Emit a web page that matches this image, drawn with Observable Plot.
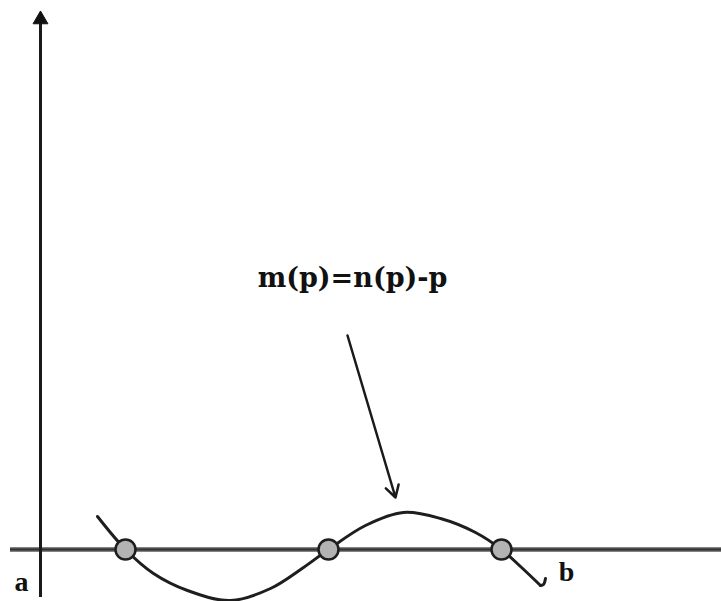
<!DOCTYPE html>
<html>
<head>
<meta charset="utf-8">
<script src="https://cdn.jsdelivr.net/npm/d3@7"></script>
<script src="https://cdn.jsdelivr.net/npm/@observablehq/plot@0.6"></script>
<style>
  html, body { margin: 0; padding: 0; background: #fff; }
  #chart svg { display: block; }
</style>
</head>
<body>
<div id="chart"></div>
<script>
// m(p) = n(p) - p, sketched between the end points a and b
const curveX = [5.7, 8.5, 11.3, 14.7, 19.0, 23.0, 26.3, 28.8, 32.5, 36.3, 40.0, 43.5, 46.1, 48.0, 50.0];
const curveY = [3.3, 0.0, -2.4, -4.1, -5.1, -3.9, -1.8, 0.0, 2.4, 3.7, 3.1, 1.7, 0.0, -1.7, -3.6];
// small hook at the right end of the curve
const hookX = [50.0, 50.3, 50.5];
const hookY = [-3.6, -3.5, -2.9];
// zeros of m(p)
const rootX = [8.5, 28.8, 46.1];
const rootY = [0, 0, 0];
// annotation
const labelText = "m(p)=n(p)-p";
const labelPos = [31.2, 27.1];
const arrowFrom = [30.7, 21.4];
const arrowTo = [35.5, 5.2];
// interval end labels
const endLabels = ["a", "b"];
const endX = [-1.9, 52.6];
const endY = [-3.3, -2.3];

const curve = curveX.map((x, i) => ({x, y: curveY[i]}));
const hook = hookX.map((x, i) => ({x, y: hookY[i]}));
const roots = rootX.map((x, i) => ({x, y: rootY[i]}));
const ends = endLabels.map((t, i) => ({t, x: endX[i], y: endY[i]}));

const chart = Plot.plot({
  width: 721,
  height: 601,
  margin: 0,
  x: {domain: [-4, 68.1], axis: null},
  y: {domain: [-5.2, 54.9], axis: null},
  marks: [
    // horizontal axis
    Plot.ruleY([0], {x1: -3, x2: 68.1, stroke: "#5a5a5a", strokeWidth: 4.5}),
    Plot.ruleY([0], {x1: -3, x2: 68.1, stroke: "#333", strokeWidth: 1.5}),
    // vertical axis with arrow head
    Plot.ruleX([0], {y1: -4.8, y2: 52.8, stroke: "#1a1a1a", strokeWidth: 3}),
    Plot.dot([{x: 0, y: 53.0}], {x: "x", y: "y", symbol: "triangle", r: 5.5, fill: "#111", stroke: "#111", strokeWidth: 1}),
    // the function
    Plot.line(curve, {x: "x", y: "y", curve: "catmull-rom", stroke: "#1e1e1e", strokeWidth: 3}),
    Plot.line(hook, {x: "x", y: "y", curve: "catmull-rom", stroke: "#1e1e1e", strokeWidth: 3}),
    // zeros
    Plot.dot(roots, {x: "x", y: "y", r: 10, fill: "#b3b3b3", stroke: "#1e1e1e", strokeWidth: 2.5}),
    // annotation and pointer
    Plot.text([labelText], {x: labelPos[0], y: labelPos[1], text: d => d, fontFamily: "DejaVu Serif", fontWeight: "bold", fontSize: 27, fill: "#111"}),
    Plot.arrow([{x1: arrowFrom[0], y1: arrowFrom[1], x2: arrowTo[0], y2: arrowTo[1]}], {x1: "x1", y1: "y1", x2: "x2", y2: "y2", stroke: "#1a1a1a", strokeWidth: 2.5, headLength: 8, headAngle: 60}),
    // a and b
    Plot.text(ends, {x: "x", y: "y", text: "t", fontFamily: "Liberation Serif", fontWeight: "bold", fontSize: 28, fill: "#111"})
  ]
});
document.getElementById("chart").appendChild(chart);
</script>
</body>
</html>
